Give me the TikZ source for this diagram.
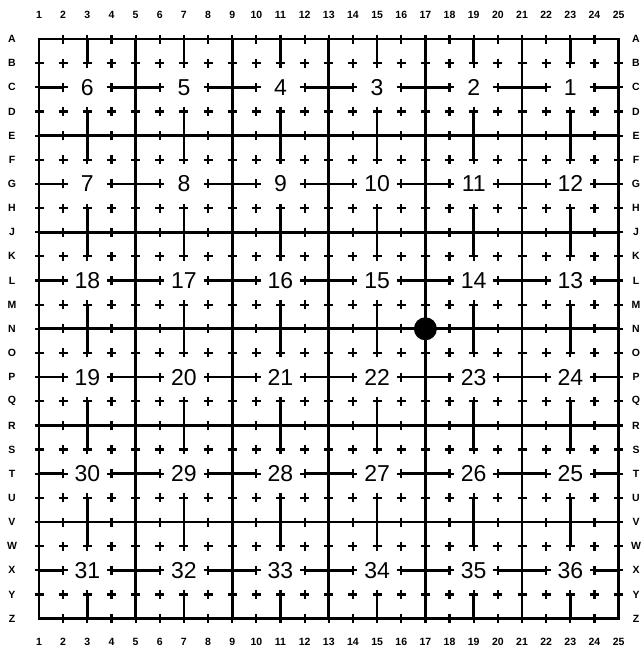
\documentclass[tikz,border=0pt]{standalone}
\usepackage{fontspec}
\setmainfont{Liberation Sans}
\begin{document}
\begin{tikzpicture}[x=1pt,y=-1pt,
  bound/.style={line width=2.8pt,line cap=rect},
  midline/.style={line width=2.5pt},
  plusmark/.style={line width=2.2pt},
  secnum/.style={font=\fontsize{23}{23}\selectfont,inner sep=0.5pt,fill=white},
  axlab/.style={font=\bfseries\fontsize{10.5}{10.5}\selectfont,inner sep=0pt}]
\useasboundingbox[fill=white] (0,0) rectangle (642,651);
\def\sp{24.15}
\def\ox{39}
\def\oy{39}
% plus marks at every grid point except corners
\foreach \c in {1,...,25}{
  \foreach \r in {1,...,25}{
    \pgfmathtruncatemacro\corner{((\c==1)||(\c==25))&&((\r==1)||(\r==25))}
    \ifnum\corner=0
      \draw[plusmark] ({\ox+(\c-1)*\sp-4.5},{\oy+(\r-1)*\sp}) -- ++(9,0)
                      ({\ox+(\c-1)*\sp},{\oy+(\r-1)*\sp-4.5}) -- ++(0,9);
    \fi
  }
}
% section boundaries
\foreach \k in {1,5,9,13,17,21,25}{
  \draw[bound] ({\ox+(\k-1)*\sp},{\oy}) -- ({\ox+(\k-1)*\sp},{\oy+24*\sp});
  \draw[bound] ({\ox},{\oy+(\k-1)*\sp}) -- ({\ox+24*\sp},{\oy+(\k-1)*\sp});
}
% quarter lines
\foreach \m in {3,7,11,15,19,23}{
  \foreach \a/\b in {1/2,4/6,8/10,12/14,16/18,20/22,24/25}{
    \draw[midline] ({\ox+(\m-1)*\sp},{\oy+(\a-1)*\sp}) -- ({\ox+(\m-1)*\sp},{\oy+(\b-1)*\sp});
    \draw[midline] ({\ox+(\a-1)*\sp},{\oy+(\m-1)*\sp}) -- ({\ox+(\b-1)*\sp},{\oy+(\m-1)*\sp});
  }
}
% section numbers
\foreach \n/\c/\r in {6/3/3,5/7/3,4/11/3,3/15/3,2/19/3,1/23/3,
  7/3/7,8/7/7,9/11/7,10/15/7,11/19/7,12/23/7,
  18/3/11,17/7/11,16/11/11,15/15/11,14/19/11,13/23/11,
  19/3/15,20/7/15,21/11/15,22/15/15,23/19/15,24/23/15,
  30/3/19,29/7/19,28/11/19,27/15/19,26/19/19,25/23/19,
  31/3/23,32/7/23,33/11/23,34/15/23,35/19/23,36/23/23}{
  \node[secnum] (s\n) at ({\ox+(\c-1)*\sp},{\oy+(\r-1)*\sp}) {\n};
}
% axis labels
\foreach \c in {1,...,25}{
  \node[axlab] (top\c) at ({\ox+(\c-1)*\sp},15) {\c};
  \node[axlab] (bot\c) at ({\ox+(\c-1)*\sp},642) {\c};
}
\foreach \L [count=\r] in {A,B,C,D,E,F,G,H,J,K,L,M,N,O,P,Q,R,S,T,U,V,W,X,Y,Z}{
  \node[axlab] (left\L) at (12,{\oy+(\r-1)*\sp}) {\L};
  \node[axlab] (right\L) at (636,{\oy+(\r-1)*\sp}) {\L};
}
% marked point
\fill ({\ox+16*\sp},{\oy+12*\sp}) circle (11.5);
\end{tikzpicture}
\end{document}
